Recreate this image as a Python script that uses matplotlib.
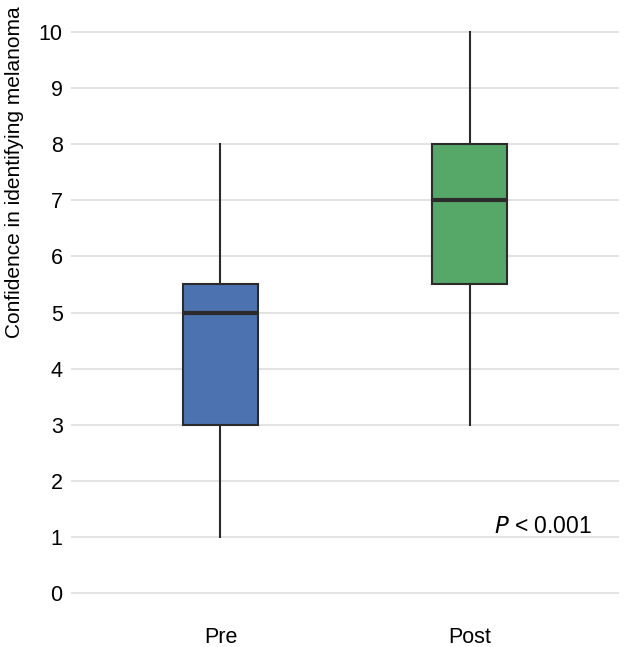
import matplotlib
matplotlib.use("Agg")
import matplotlib.pyplot as plt

plt.rcParams['font.family'] = ['Liberation Sans', 'DejaVu Sans']

groups = ['Pre', 'Post']
whisker_low = [1, 3]
q1 = [3, 5.5]
median = [5, 7]
q3 = [5.5, 8]
whisker_high = [8, 10]
colors = ['#4C72B0', '#55A868']
yticks = list(range(0, 11))

stats = []
for i, g in enumerate(groups):
    stats.append(dict(label=g, whislo=whisker_low[i], q1=q1[i], med=median[i],
                      q3=q3[i], whishi=whisker_high[i], fliers=[]))

fig = plt.figure(figsize=(6.24, 6.47), dpi=100)
ax = fig.add_axes([0.1138, 0.0401, 0.992 - 0.1138, 0.9939 - 0.0401])

bp = ax.bxp(stats, positions=[0, 1], widths=0.3, patch_artist=True, showcaps=False,
            boxprops=dict(edgecolor='#2b2b2b', linewidth=1.5),
            whiskerprops=dict(color='#2b2b2b', linewidth=1.5),
            medianprops=dict(color='#2b2b2b', linewidth=3, solid_capstyle='butt'),
            zorder=3)
for patch, c in zip(bp['boxes'], colors):
    patch.set_facecolor(c)

ax.set_xlim(-0.6, 1.6)
ax.set_ylim(-0.5, 10.5)
ax.set_yticks(yticks)
ax.yaxis.grid(True, color='#dedede', linewidth=1.2, zorder=0)
ax.set_axisbelow(True)
for s in ax.spines.values():
    s.set_visible(False)
ax.tick_params(axis='both', length=0, labelsize=15.5, pad=6)
ax.tick_params(axis='x', pad=4)
ax.set_ylabel('Confidence in identifying melanoma', fontsize=15)
ax.yaxis.set_label_coords(-0.086, 0.727)

ax.text(1.49, 1.07, r'$\it{P}$ < 0.001', ha='right', va='baseline', fontsize=16.5)

fig.savefig('out.png', dpi=100)
